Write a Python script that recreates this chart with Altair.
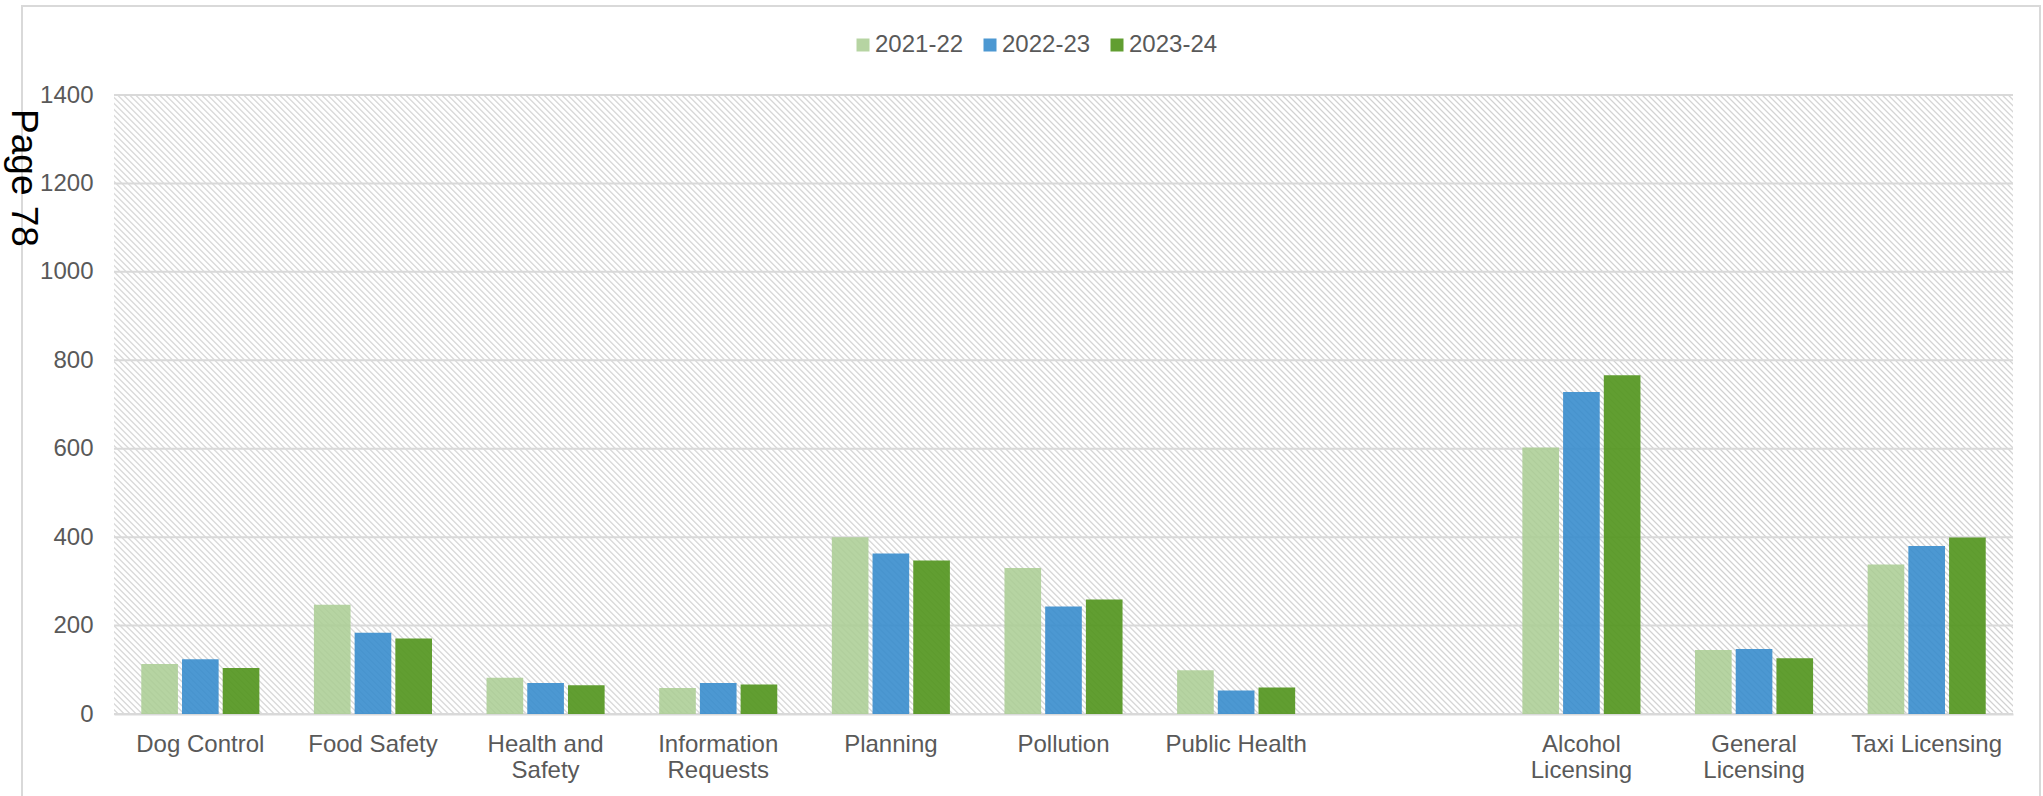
import altair as alt
import pandas as pd

# ---------------- data ----------------
categories = ["Dog Control", "Food Safety", "Health and\nSafety", "Information\nRequests",
              "Planning", "Pollution", "Public Health", " ",
              "Alcohol\nLicensing", "General\nLicensing", "Taxi Licensing"]
series = ["2021-22", "2022-23", "2023-24"]
v_2021_22 = [113, 247, 82, 59, 400, 330, 99, None, 603, 145, 338]
v_2022_23 = [124, 184, 70, 70, 363, 243, 53, None, 728, 147, 380]
v_2023_24 = [104, 171, 65, 67, 347, 259, 60, None, 766, 126, 399]
y_ticks = [0, 200, 400, 600, 800, 1000, 1200, 1400]
page_label = ["Page 78"]

colors = ["#a9cd92", "#358bcc", "#54961f"]
opacities = [0.85, 0.92, 1.0]

rows = []
for s, vals in zip(series, [v_2021_22, v_2022_23, v_2023_24]):
    for c, v in zip(categories, vals):
        if v is not None:
            rows.append({"category": c, "year": s, "value": v})
df = pd.DataFrame(rows)

W, H = 1899, 619
FONT = "Liberation Sans"
GRAY_TXT = "#595959"
GRID = "#d9d9d9"

# ---------------- hatched background (gradient stripes) ----------------
k = 1.22
n = int(350 * k)
T = 1.0 / n
stops = []
for i in range(n):
    p = i * T
    stops.append(alt.GradientStop(offset=round(p, 6), color="#ffffff"))
    stops.append(alt.GradientStop(offset=round(p + 0.45 * T, 6), color="#ffffff"))
    stops.append(alt.GradientStop(offset=round(p + 0.72 * T, 6), color="#d0d0d0"))
stops.append(alt.GradientStop(offset=1.0, color="#ffffff"))

one = pd.DataFrame({"k": [0]})

bg = alt.Chart(one).mark_rect(
    fill=alt.LinearGradient(gradient="linear", stops=stops,
                            x1=0, y1=1, x2=k, y2=round(1 - 0.326 * k, 4)),
    strokeWidth=0,
).encode(x=alt.value(0), x2=alt.value(W), y=alt.value(0), y2=alt.value(H))

grid = alt.Chart(pd.DataFrame({"t": y_ticks})).mark_rule(
    color=GRID, strokeWidth=2
).encode(y=alt.Y("t:Q", scale=alt.Scale(domain=[0, 1400])))

bars = alt.Chart(df).mark_bar().encode(
    x=alt.X("category:N", sort=categories,
            scale=alt.Scale(domain=categories, paddingInner=0.316, paddingOuter=0.158),
            axis=alt.Axis(title=None, labelAngle=0, ticks=False,
                          labelExpr="split(datum.label, '\\n')",
                          labelFont=FONT, labelFontSize=24, labelColor=GRAY_TXT,
                          labelLineHeight=26, labelPadding=18, labelBaseline="top",
                          domainColor=GRID, domainWidth=2)),
    xOffset=alt.XOffset("year:N", sort=series,
                        scale=alt.Scale(domain=series, paddingInner=0.1, paddingOuter=0)),
    y=alt.Y("value:Q", scale=alt.Scale(domain=[0, 1400]),
            axis=alt.Axis(title=None, values=y_ticks, format="d", grid=False, domain=False,
                          ticks=False, labelFont=FONT, labelFontSize=24,
                          labelColor=GRAY_TXT, labelPadding=21)),
    color=alt.Color("year:N", sort=series,
                    scale=alt.Scale(domain=series, range=colors),
                    legend=alt.Legend(orient="none", legendX=737, legendY=-62,
                                      direction="horizontal", title=None,
                                      symbolType="square", symbolSize=169,
                                      symbolStrokeWidth=0, symbolOpacity=1,
                                      labelFont=FONT, labelFontSize=24,
                                      labelColor=GRAY_TXT, labelOffset=0,
                                      columnPadding=14)),
    opacity=alt.Opacity("year:N", sort=series,
                        scale=alt.Scale(domain=series, range=opacities), legend=None),
)

frame = alt.Chart(one).mark_rect(
    filled=False, stroke=GRID, strokeWidth=2
).encode(x=alt.value(22 - 114), x2=alt.value(2040 - 114),
         y=alt.value(6 - 95), y2=alt.value(H + 200))

page = alt.Chart(pd.DataFrame({"t": page_label})).mark_text(
    angle=90, fontSize=37, font=FONT, color="#000000", align="center", baseline="middle"
).encode(text="t:N", x=alt.value(23 - 114), y=alt.value(178 - 95))

chart = alt.layer(bg, grid, bars, frame, page).properties(
    width=W, height=H,
    padding={"left": 114, "top": 95, "right": 30, "bottom": 82},
    autosize=alt.AutoSizeParams(type="none"),
    background="#ffffff",
).configure_view(stroke=None)

chart.save("out.html", embed_options={"renderer": "svg", "actions": False})
